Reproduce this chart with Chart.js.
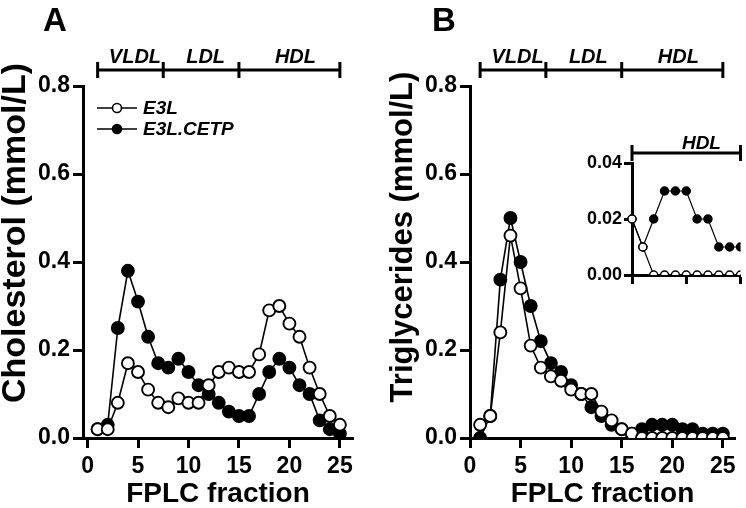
<!DOCTYPE html>
<html>
<head>
<meta charset="utf-8">
<script src="https://cdn.jsdelivr.net/npm/chart.js@4.4.1/dist/chart.umd.min.js"></script>
<style>
  html, body { margin: 0; padding: 0; background: #fff; }
  #wrap { position: relative; width: 746px; height: 508px; overflow: hidden; }
  .box { position: absolute; }
</style>
</head>
<body>
<div id="wrap">
  <div class="box" style="left:0;top:0"><canvas id="cholChart" width="373" height="508"></canvas></div>
  <div class="box" style="left:373px;top:0"><canvas id="tgChart" width="373" height="508"></canvas></div>
  <div class="box" style="left:560px;top:120px"><canvas id="insetChart" width="186" height="170"></canvas></div>
</div>
<script>
// FPLC fractions and measured values (mmol/L)
const fractions = [1, 2, 3, 4, 5, 6, 7, 8, 9, 10, 11, 12, 13, 14, 15, 16, 17, 18, 19, 20, 21, 22, 23, 24, 25];
const cholE3L  = [0.02, 0.02, 0.08, 0.17, 0.15, 0.11, 0.08, 0.07, 0.09, 0.08, 0.08, 0.12, 0.15, 0.16, 0.15, 0.15, 0.19, 0.29, 0.30, 0.26, 0.23, 0.16, 0.10, 0.05, 0.03];
const cholCETP = [0.02, 0.03, 0.25, 0.38, 0.31, 0.23, 0.17, 0.16, 0.18, 0.15, 0.12, 0.10, 0.08, 0.06, 0.05, 0.05, 0.10, 0.15, 0.18, 0.16, 0.12, 0.10, 0.04, 0.02, 0.01];
const tgE3L    = [0.03, 0.05, 0.24, 0.46, 0.34, 0.21, 0.16, 0.14, 0.13, 0.11, 0.10, 0.10, 0.06, 0.04, 0.02, 0.01, 0.00, 0.00, 0.00, 0.00, 0.00, 0.00, 0.00, 0.00, 0.00];
const tgCETP   = [0.00, 0.05, 0.36, 0.50, 0.40, 0.30, 0.22, 0.17, 0.15, 0.12, 0.10, 0.07, 0.05, 0.03, 0.02, 0.01, 0.02, 0.03, 0.03, 0.03, 0.02, 0.02, 0.01, 0.01, 0.01];

const seriesNames = ['E3L', 'E3L.CETP'];
const xTicks = [0, 5, 10, 15, 20, 25];
const yTicks = [0, 0.2, 0.4, 0.6, 0.8];
const insetXTicks = [15, 20, 25];
const insetYTicks = [0, 0.02, 0.04];

// lipoprotein class brackets (fraction boundaries)
const lipoBounds = [1, 7.5, 15, 25];
const lipoNames = ['VLDL', 'LDL', 'HDL'];
const lipoLabelAt = [4.7, 11.7, 20.6];
const insetBounds = [15, 25];
const insetLabelAt = [21.4];

const FONT = "'Liberation Sans', Arial, Helvetica, sans-serif";

function toPoints(xs, ys) {
    return xs.map((x, i) => ({ x: x, y: ys[i] }));
}

function seriesStyle(filled, r, lw) {
    return {
        borderColor: '#000',
        borderWidth: lw,
        pointRadius: r,
        pointHoverRadius: r,
        pointBorderWidth: lw + 0.3,
        pointBorderColor: '#000',
        pointBackgroundColor: filled ? '#000' : '#fff',
        tension: 0,
        fill: false
    };
}

function drawBrackets(ctx, x, bounds, names, at, barY, labelY, fontSize) {
    ctx.strokeStyle = '#000';
    ctx.lineWidth = 3;
    ctx.lineCap = 'butt';
    ctx.beginPath();
    ctx.moveTo(x.getPixelForValue(bounds[0]), barY);
    ctx.lineTo(x.getPixelForValue(bounds[bounds.length - 1]), barY);
    bounds.forEach(b => {
        const px = x.getPixelForValue(b);
        ctx.moveTo(px, barY - 8);
        ctx.lineTo(px, barY + 8);
    });
    ctx.stroke();
    ctx.fillStyle = '#000';
    ctx.font = 'italic bold ' + fontSize + 'px ' + FONT;
    ctx.textAlign = 'center';
    ctx.textBaseline = 'middle';
    names.forEach((n, i) => ctx.fillText(n, x.getPixelForValue(at[i]), labelY));
}

function panelDecor(letter, letterX, yTitle, yTitleX, yTitleY, yTitleSize, withLegend) {
    return {
        id: 'panelDecor',
        afterDraw(chart) {
            const ctx = chart.ctx;
            const x = chart.scales.x;
            ctx.save();
            ctx.fillStyle = '#000';
            ctx.font = 'bold 33px ' + FONT;
            ctx.textAlign = 'left';
            ctx.textBaseline = 'alphabetic';
            ctx.fillText(letter, letterX, 31);

            ctx.save();
            ctx.translate(yTitleX, yTitleY);
            ctx.rotate(-Math.PI / 2);
            ctx.font = 'bold ' + yTitleSize + 'px ' + FONT;
            ctx.textAlign = 'center';
            ctx.textBaseline = 'middle';
            ctx.fillText(yTitle, 0, 0);
            ctx.restore();

            drawBrackets(ctx, x, lipoBounds, lipoNames, lipoLabelAt, 70, 57, 20);

            if (withLegend) {
                const rows = [108, 129];
                chart.data.datasets.forEach((ds, i) => {
                    const y = rows[i];
                    ctx.strokeStyle = '#000';
                    ctx.lineWidth = 1.6;
                    ctx.beginPath();
                    ctx.moveTo(97, y);
                    ctx.lineTo(137, y);
                    ctx.stroke();
                    ctx.beginPath();
                    ctx.arc(117, y, 4.5, 0, Math.PI * 2);
                    ctx.fillStyle = ds.pointBackgroundColor;
                    ctx.fill();
                    ctx.stroke();
                    ctx.fillStyle = '#000';
                    ctx.font = 'italic bold 19px ' + FONT;
                    ctx.textAlign = 'left';
                    ctx.textBaseline = 'middle';
                    ctx.fillText(ds.label, 143, y + 1);
                });
            }
            ctx.restore();
        }
    };
}

function axisStyle(tickLen) {
    return {
        grid: { display: true, drawOnChartArea: false, drawTicks: true, tickLength: tickLen, tickWidth: 3, tickColor: '#000' },
        border: { display: true, color: '#000', width: 3 }
    };
}

function makePanel(id, openVals, filledVals, p) {
    return new Chart(document.getElementById(id), {
        type: 'line',
        data: {
            datasets: [
                Object.assign({ label: seriesNames[0], data: toPoints(fractions, openVals), clip: { left: 10, top: 10, right: 10, bottom: 0 } }, seriesStyle(false, 6, 1.6)),
                Object.assign({ label: seriesNames[1], data: toPoints(fractions, filledVals), clip: { left: 10, top: 10, right: 10, bottom: 0 } }, seriesStyle(true, 6, 1.6))
            ]
        },
        options: {
            responsive: false,
            animation: false,
            layout: { padding: { top: 86, right: p.padRight, left: 0, bottom: 0 } },
            plugins: { legend: { display: false }, tooltip: { enabled: false } },
            scales: {
                x: Object.assign({
                    type: 'linear',
                    min: p.xMin,
                    max: p.xMax,
                    afterBuildTicks: s => { s.ticks = xTicks.map(v => ({ value: v })); },
                    afterFit: s => { s.height = 70; },
                    ticks: { color: '#000', font: { family: FONT, size: 23, weight: 'bold' }, padding: 5, maxRotation: 0, autoSkip: false },
                    title: { display: true, text: 'FPLC fraction', color: '#000', font: { family: FONT, size: 28, weight: 'bold', lineHeight: 1 }, padding: 0 }
                }, axisStyle(10)),
                y: Object.assign({
                    min: 0,
                    max: 0.8,
                    afterBuildTicks: s => { s.ticks = yTicks.map(v => ({ value: v })); },
                    afterFit: s => { s.width = p.yWidth; },
                    ticks: { color: '#000', font: { family: FONT, size: 23, weight: 'bold' }, padding: 3, callback: v => v.toFixed(1) }
                }, axisStyle(10))
            }
        },
        plugins: [panelDecor(p.letter, p.letterX, p.yTitle, p.yTitleX, p.yTitleY, p.yTitleSize, p.legend)]
    });
}

makePanel('cholChart', cholE3L, cholCETP, {
    xMin: -0.45, xMax: 26.3, padRight: 20, yWidth: 83,
    letter: 'A', letterX: 43, yTitle: 'Cholesterol (mmol/L)', yTitleX: 16, yTitleY: 233, yTitleSize: 34, legend: true
});

makePanel('tgChart', tgE3L, tgCETP, {
    xMin: 0, xMax: 26.2, padRight: 11, yWidth: 97,
    letter: 'B', letterX: 59, yTitle: 'Triglycerides (mmol/L)', yTitleX: 30, yTitleY: 237, yTitleSize: 31, legend: false
});

// inset: HDL region of panel B, fractions 15-25
const insetIdx = fractions.map((f, i) => i).filter(i => fractions[i] >= 15);
const insetFractions = insetIdx.map(i => fractions[i]);
const insetE3L = insetIdx.map(i => tgE3L[i]);
const insetCETP = insetIdx.map(i => tgCETP[i]);

new Chart(document.getElementById('insetChart'), {
    type: 'line',
    data: {
        datasets: [
            Object.assign({ label: seriesNames[0], data: toPoints(insetFractions, insetE3L), clip: { left: 6, top: 6, right: 0, bottom: 0 } }, seriesStyle(false, 4, 1.2)),
            Object.assign({ label: seriesNames[1], data: toPoints(insetFractions, insetCETP), clip: { left: 6, top: 6, right: 0, bottom: 0 } }, seriesStyle(true, 4, 1.2))
        ]
    },
    options: {
        responsive: false,
        animation: false,
        layout: { padding: { top: 43, right: 4, left: 0, bottom: 0 } },
        plugins: { legend: { display: false }, tooltip: { enabled: false } },
        scales: {
            x: Object.assign({
                type: 'linear', min: 15, max: 25,
                afterBuildTicks: s => { s.ticks = insetXTicks.map(v => ({ value: v })); },
                afterFit: s => { s.height = 15; },
                ticks: { display: false }
            }, axisStyle(9)),
            y: Object.assign({
                min: 0, max: 0.04,
                afterBuildTicks: s => { s.ticks = insetYTicks.map(v => ({ value: v })); },
                afterFit: s => { s.width = 72; },
                ticks: { color: '#000', font: { family: FONT, size: 18, weight: 'bold' }, padding: 2, callback: v => v.toFixed(2) }
            }, axisStyle(8))
        }
    },
    plugins: [{
        id: 'insetDecor',
        afterDraw(chart) {
            const ctx = chart.ctx;
            ctx.save();
            drawBrackets(ctx, chart.scales.x, insetBounds, ['HDL'], insetLabelAt, 33, 24, 19);
            ctx.restore();
        }
    }]
});
</script>
</body>
</html>
